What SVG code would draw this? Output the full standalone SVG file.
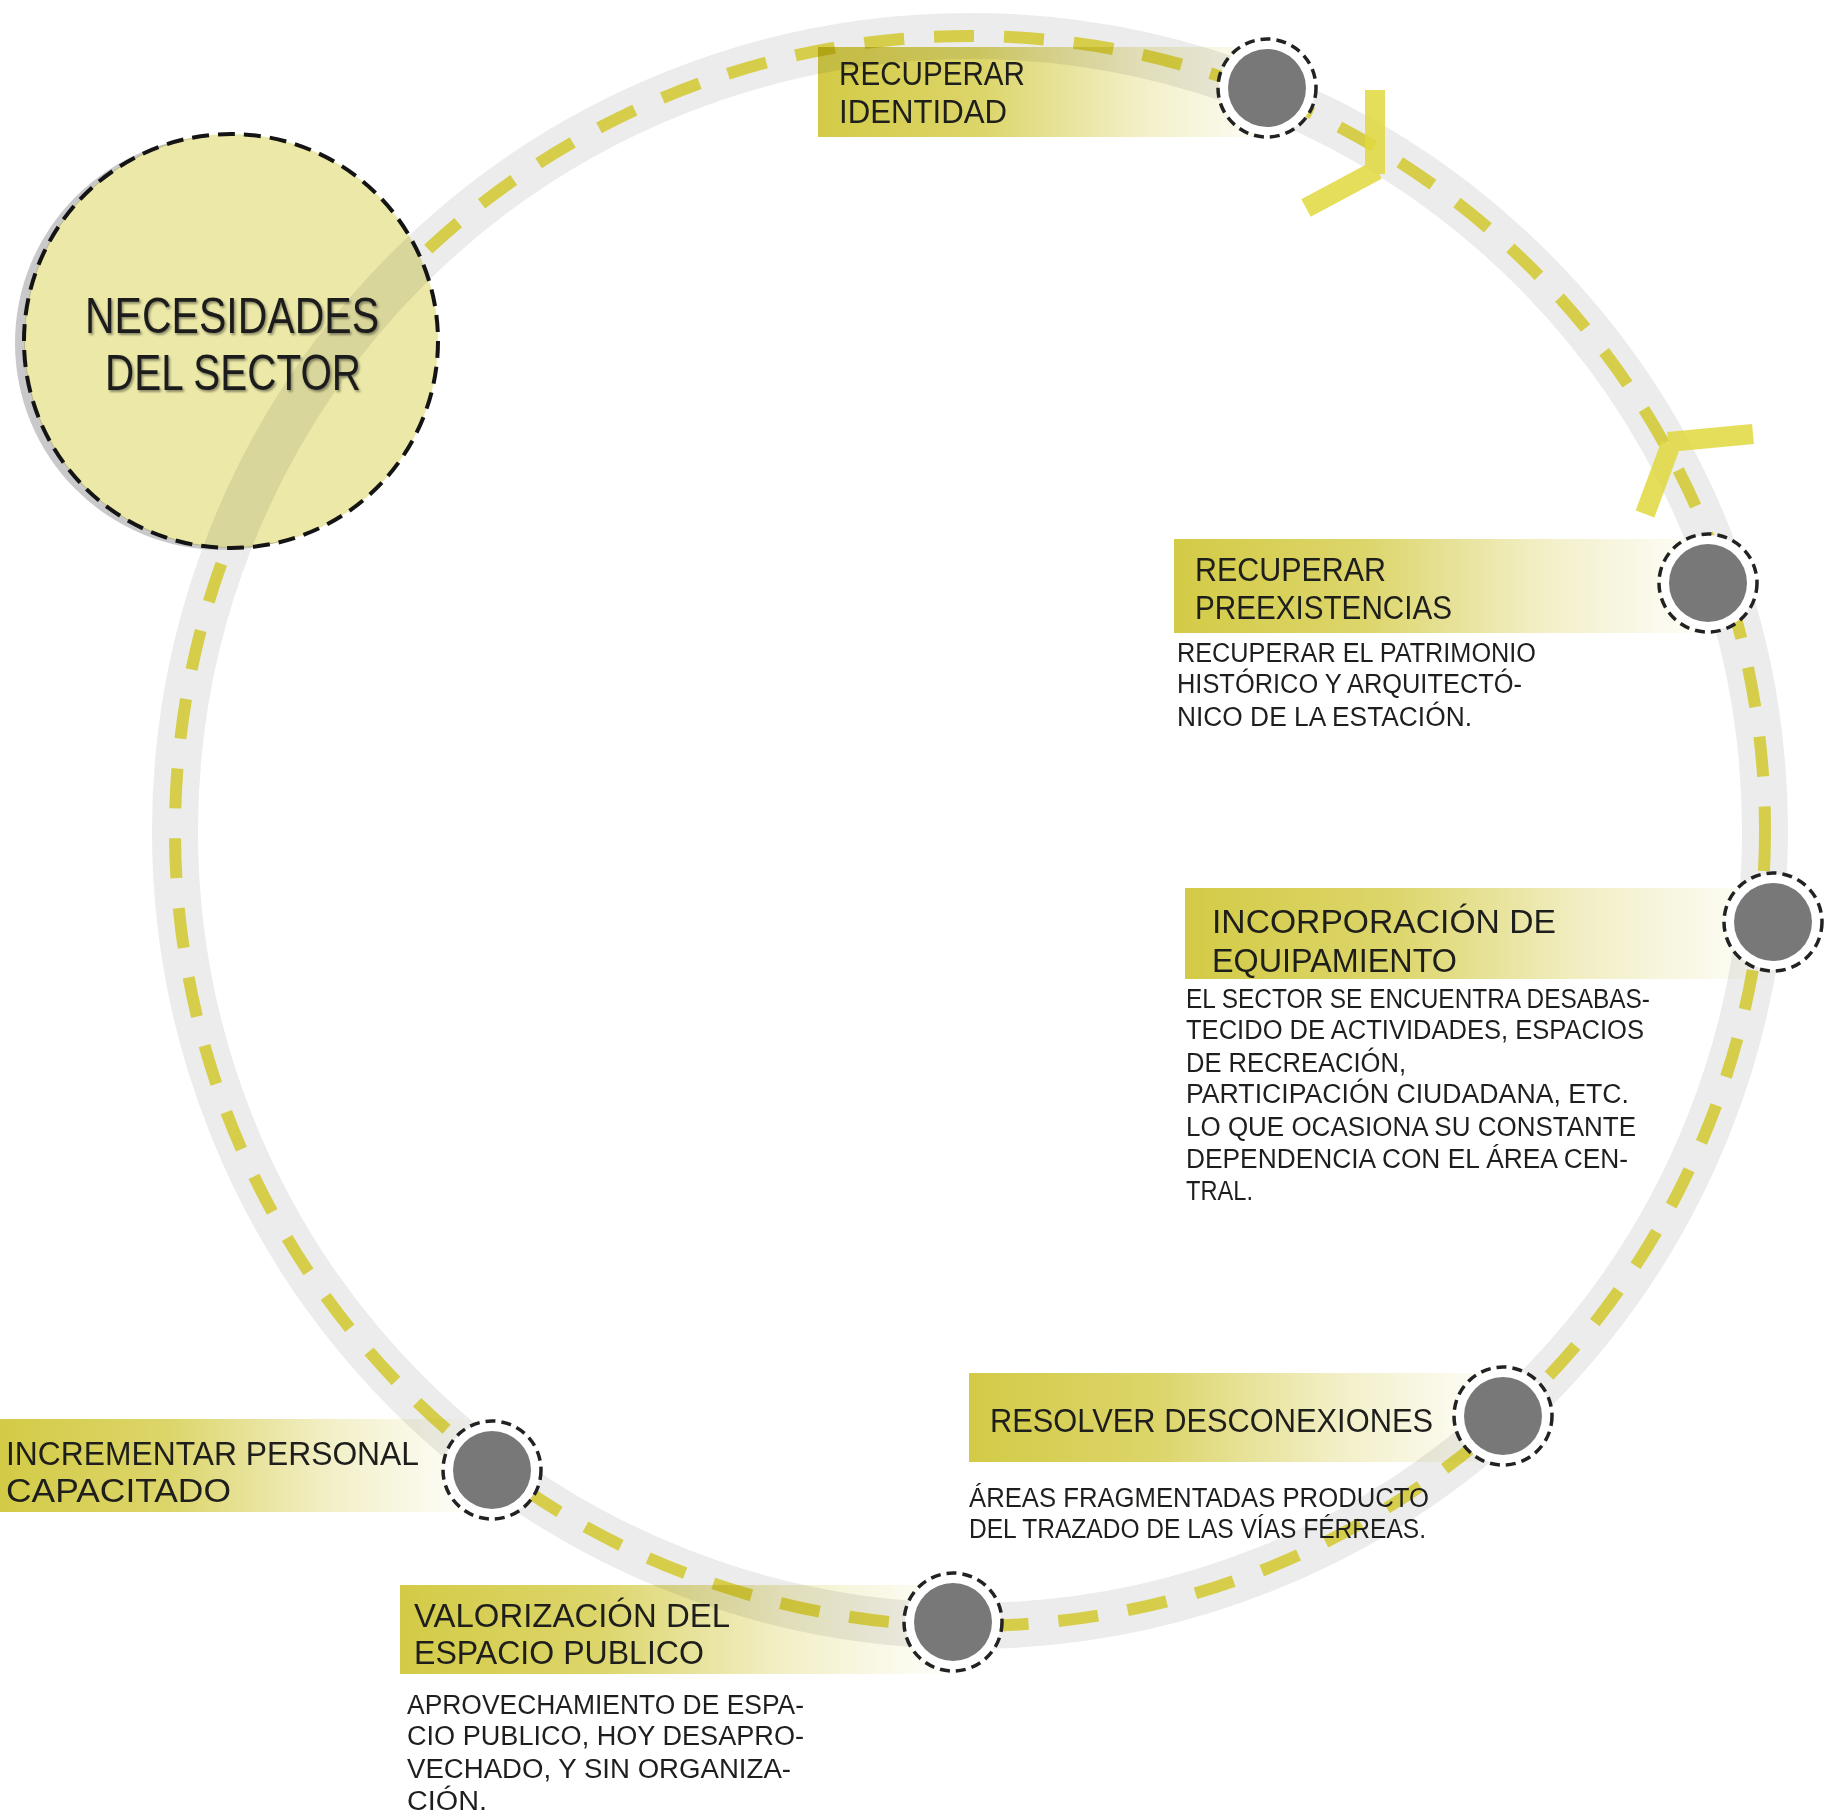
<svg xmlns="http://www.w3.org/2000/svg" width="1827" height="1816" viewBox="0 0 1827 1816">
<defs>
<style>
.t{font-family:"Liberation Sans",Arial,sans-serif;fill:#1e1e1c}
.ti{font-size:34px}
.de{font-size:27px}
.lbl{fill:url(#lg);mix-blend-mode:multiply}
.halo{fill:#ffffff}
.core{fill:#787878}
.ring{fill:none;stroke:#222;stroke-width:3.5;stroke-dasharray:10 6}
.ymark{stroke:#e0d83e;stroke-width:20;stroke-opacity:0.85;fill:none}
</style>
<linearGradient id="lg" x1="0" y1="0" x2="1" y2="0">
<stop offset="0" stop-color="#d3cb46"/>
<stop offset="0.35" stop-color="#dcd56a"/>
<stop offset="0.68" stop-color="#f2efc6"/>
<stop offset="1" stop-color="#ffffff"/>
</linearGradient>
<mask id="dm" maskUnits="userSpaceOnUse" x="0" y="0" width="1827" height="1816">
<rect width="1827" height="1816" fill="#fff"/>
<circle cx="231" cy="341" r="206" fill="#000"/>
</mask>
<mask id="sm" maskUnits="userSpaceOnUse" x="0" y="0" width="1827" height="1816">
<rect width="1827" height="1816" fill="#fff"/>
<circle cx="231" cy="341" r="206" fill="#000"/>
</mask>
<filter id="sh" x="-10%" y="-10%" width="120%" height="130%">
<feDropShadow dx="1.5" dy="2" stdDeviation="1" flood-color="#000" flood-opacity="0.4"/>
</filter>
</defs>
<rect width="1827" height="1816" fill="#ffffff"/>

<g id="connectors">
<circle cx="970" cy="831" r="795" fill="none" stroke="#ececec" stroke-width="46"/>
<circle cx="970" cy="831" r="795" fill="none" stroke="#d6ce4a" stroke-width="12" stroke-dasharray="40 30" mask="url(#dm)"/>
<path class="ymark" d="M1375 90 L1375 174 M1377 170 L1306 208"/>
<path class="ymark" d="M1668 442 L1753 434 M1671 444 L1645 514"/>
</g>

<g id="necesidades">
<circle cx="222" cy="343" r="207" fill="#c9c9cc" mask="url(#sm)"/>
<circle cx="231" cy="341" r="207" fill="#ebe8a8" style="mix-blend-mode:multiply"/>
<circle cx="231" cy="341" r="207" fill="none" stroke="#141414" stroke-width="4" stroke-dasharray="17 9"/>
<g filter="url(#sh)">
<text class="t" x="85" y="333" font-size="50" textLength="294" lengthAdjust="spacingAndGlyphs" fill="#2b2a1e">NECESIDADES</text>
<text class="t" x="105" y="390" font-size="50" textLength="256" lengthAdjust="spacingAndGlyphs" fill="#2b2a1e">DEL SECTOR</text>
</g>
</g>

<g id="recuperar-identidad">
<rect class="lbl" x="818" y="47" width="470" height="90"/>
<text class="t ti" x="839" y="85" textLength="186" lengthAdjust="spacingAndGlyphs">RECUPERAR</text>
<text class="t ti" x="839" y="123" textLength="168" lengthAdjust="spacingAndGlyphs">IDENTIDAD</text>
<circle class="halo" cx="1267" cy="88" r="48"/>
<circle class="core" cx="1267" cy="88" r="39"/>
<circle class="ring" cx="1267" cy="88" r="49"/>
</g>

<g id="recuperar-preexistencias">
<rect class="lbl" x="1174" y="539" width="540" height="94"/>
<text class="t ti" x="1195" y="581" textLength="191" lengthAdjust="spacingAndGlyphs">RECUPERAR</text>
<text class="t ti" x="1195" y="619" textLength="257" lengthAdjust="spacingAndGlyphs">PREEXISTENCIAS</text>
<text class="t de" x="1177" y="662" textLength="359" lengthAdjust="spacingAndGlyphs">RECUPERAR EL PATRIMONIO</text>
<text class="t de" x="1177" y="693" textLength="345" lengthAdjust="spacingAndGlyphs">HISTÓRICO Y ARQUITECTÓ-</text>
<text class="t de" x="1177" y="726" textLength="295" lengthAdjust="spacingAndGlyphs">NICO DE LA ESTACIÓN.</text>
<circle class="halo" cx="1708" cy="583" r="48"/>
<circle class="core" cx="1708" cy="583" r="39"/>
<circle class="ring" cx="1708" cy="583" r="49"/>
</g>

<g id="incorporacion-equipamiento">
<rect class="lbl" x="1185" y="888" width="590" height="91"/>
<text class="t ti" x="1212" y="933" textLength="344" lengthAdjust="spacingAndGlyphs">INCORPORACIÓN DE</text>
<text class="t ti" x="1212" y="972" textLength="245" lengthAdjust="spacingAndGlyphs">EQUIPAMIENTO</text>
<text class="t de" x="1186" y="1008" textLength="464" lengthAdjust="spacingAndGlyphs">EL SECTOR SE ENCUENTRA DESABAS-</text>
<text class="t de" x="1186" y="1039" textLength="458" lengthAdjust="spacingAndGlyphs">TECIDO DE ACTIVIDADES, ESPACIOS</text>
<text class="t de" x="1186" y="1072" textLength="220" lengthAdjust="spacingAndGlyphs">DE RECREACIÓN,</text>
<text class="t de" x="1186" y="1103" textLength="443" lengthAdjust="spacingAndGlyphs">PARTICIPACIÓN CIUDADANA, ETC.</text>
<text class="t de" x="1186" y="1136" textLength="450" lengthAdjust="spacingAndGlyphs">LO QUE OCASIONA SU CONSTANTE</text>
<text class="t de" x="1186" y="1168" textLength="442" lengthAdjust="spacingAndGlyphs">DEPENDENCIA CON EL ÁREA CEN-</text>
<text class="t de" x="1186" y="1200" textLength="67" lengthAdjust="spacingAndGlyphs">TRAL.</text>
<circle class="halo" cx="1773" cy="922" r="48"/>
<circle class="core" cx="1773" cy="922" r="39"/>
<circle class="ring" cx="1773" cy="922" r="49"/>
</g>

<g id="resolver-desconexiones">
<rect class="lbl" x="969" y="1373" width="540" height="89"/>
<text class="t ti" x="990" y="1432" textLength="443" lengthAdjust="spacingAndGlyphs">RESOLVER DESCONEXIONES</text>
<text class="t de" x="969" y="1507" textLength="460" lengthAdjust="spacingAndGlyphs">ÁREAS FRAGMENTADAS PRODUCTO</text>
<text class="t de" x="969" y="1538" textLength="457" lengthAdjust="spacingAndGlyphs">DEL TRAZADO DE LAS VÍAS FÉRREAS.</text>
<circle class="halo" cx="1503" cy="1416" r="48"/>
<circle class="core" cx="1503" cy="1416" r="39"/>
<circle class="ring" cx="1503" cy="1416" r="49"/>
</g>

<g id="incrementar-personal">
<rect class="lbl" x="0" y="1419" width="480" height="93"/>
<text class="t ti" x="6" y="1465" textLength="413" lengthAdjust="spacingAndGlyphs">INCREMENTAR PERSONAL</text>
<text class="t ti" x="6" y="1502" textLength="225" lengthAdjust="spacingAndGlyphs">CAPACITADO</text>
<circle class="halo" cx="492" cy="1470" r="48"/>
<circle class="core" cx="492" cy="1470" r="39"/>
<circle class="ring" cx="492" cy="1470" r="49"/>
</g>

<g id="valorizacion-espacio-publico">
<rect class="lbl" x="400" y="1585" width="560" height="89"/>
<text class="t ti" x="414" y="1627" textLength="316" lengthAdjust="spacingAndGlyphs">VALORIZACIÓN DEL</text>
<text class="t ti" x="414" y="1664" textLength="290" lengthAdjust="spacingAndGlyphs">ESPACIO PUBLICO</text>
<text class="t de" x="407" y="1714" textLength="397" lengthAdjust="spacingAndGlyphs">APROVECHAMIENTO DE ESPA-</text>
<text class="t de" x="407" y="1745" textLength="397" lengthAdjust="spacingAndGlyphs">CIO PUBLICO, HOY DESAPRO-</text>
<text class="t de" x="407" y="1778" textLength="384" lengthAdjust="spacingAndGlyphs">VECHADO, Y SIN ORGANIZA-</text>
<text class="t de" x="407" y="1810" textLength="80" lengthAdjust="spacingAndGlyphs">CIÓN.</text>
<circle class="halo" cx="953" cy="1622" r="48"/>
<circle class="core" cx="953" cy="1622" r="39"/>
<circle class="ring" cx="953" cy="1622" r="49"/>
</g>
</svg>
